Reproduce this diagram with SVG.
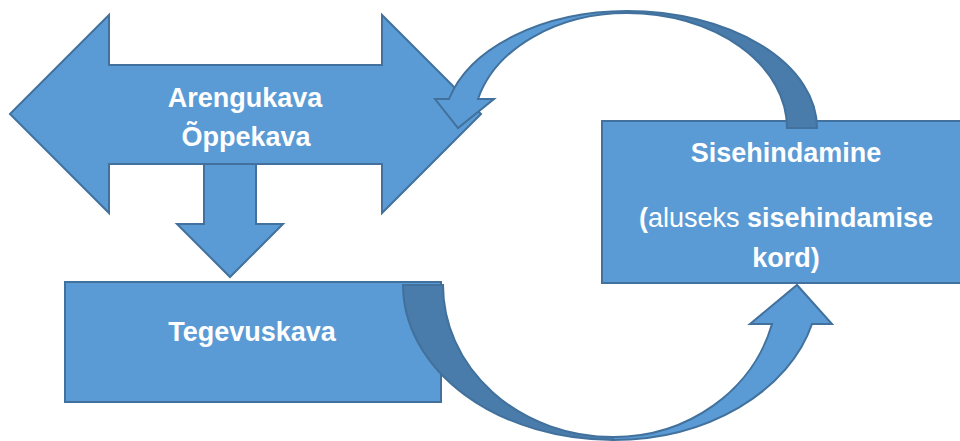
<svg xmlns="http://www.w3.org/2000/svg" width="960" height="441" viewBox="0 0 960 441">
<style>
.shape{fill:#5B9BD5;stroke:#41719C;stroke-width:2;stroke-linejoin:miter}
.dark{fill:#497CAA;stroke:#41719C;stroke-width:2}
.lbl{font-family:"Liberation Sans",Arial,sans-serif;font-size:27px;font-weight:bold;fill:#FFFFFF;text-anchor:middle}
.reg{font-weight:normal}
</style>
<rect width="960" height="441" fill="#FFFFFF"/>
<g id="arengukava">
<path class="shape" d="M10 114 L109 15 L109 65 L382 65 L382 15 L481 114 L382 213 L382 164 L109 164 L109 213 Z"/>
<text class="lbl" x="245" y="107">Arengukava</text>
<text class="lbl" x="246" y="146">Õppekava</text>
</g>
<g id="tegevuskava">
<rect class="shape" x="65" y="282" width="376" height="120"/>
<text class="lbl" x="252" y="341">Tegevuskava</text>
</g>
<g id="sisehindamine">
<rect class="shape" x="602" y="121" width="368" height="162"/>
<text class="lbl" x="786" y="162">Sisehindamine</text>
<text class="lbl" x="786" y="227">(<tspan class="reg">aluseks </tspan>sisehindamise</text>
<text class="lbl" x="786" y="267">kord)</text>
</g>
<g id="connectors">
<path class="shape" d="M204 164 L256 164 L256 224 L283 224 L230 277 L177 224 L204 224 Z"/>
<path class="dark" d="M817 128 A190 117 0 0 0 627 11 L627 13 A160 115 0 0 1 787 128 Z"/>
<path class="shape" d="M449 99 A184 117 0 0 1 627 11 L627 13 A154 115 0 0 0 478 99 L494 99 L458 128 L435 99 Z"/>
<path class="dark" d="M403 285 A210 155 0 0 0 613 440 L613 437 A170 152 0 0 1 443 285 Z"/>
<path class="shape" d="M613 440 A206 155 0 0 0 812 324 L832 324 L797 285 L750 324 L772 324 A164 152 0 0 1 613 437 Z"/>
</g>
</svg>
